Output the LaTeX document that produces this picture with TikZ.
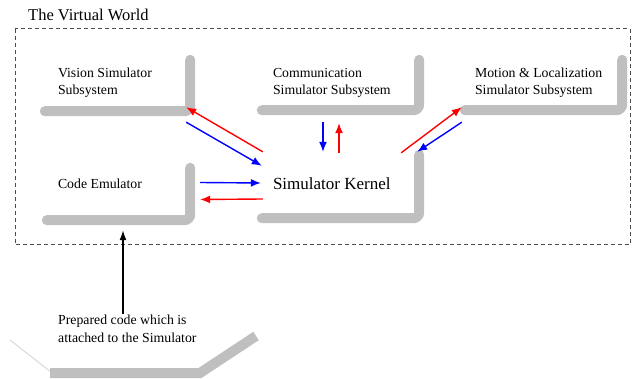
\documentclass[tikz,border=0pt]{standalone}
\usepackage{fontspec}
\setmainfont{Liberation Serif}
\usetikzlibrary{calc,arrows.meta}

\tikzset{
  sub/.style={inner sep=0pt},
  txt/.style={anchor=west,align=left,inner sep=0pt,font=\fontsize{13.8}{17}\selectfont},
  shade/.style={draw=black!25,line width=10pt,line cap=round,rounded corners=6pt},
  tored/.style={draw=red,line width=1.4pt,-{Latex[length=10pt,width=8pt]}},
  toblue/.style={draw=blue,line width=1.4pt,-{Latex[length=10pt,width=8pt]}}
}

\begin{document}
\begin{tikzpicture}[x=1pt,y=-1pt]
  \useasboundingbox (0,0) rectangle (634,379);

  % the world frame
  \node[anchor=west,inner sep=0pt,font=\fontsize{16.5}{19}\selectfont] (title) at (28,15) {The Virtual World};
  \draw[black!70,line width=1pt,dash pattern=on 4pt off 3pt] (15,29) rectangle (630,245);

  % subsystems (south east corner sits on the shade line)
  \node[sub,minimum width=150pt,minimum height=56pt] (vision) at (115,83) {};
  \node[sub,minimum width=162pt,minimum height=55pt] (comm) at (338,82.5) {};
  \node[sub,minimum width=162pt,minimum height=55pt] (motion) at (541,82.5) {};
  \node[sub,minimum width=162pt,minimum height=68pt] (kernel) at (338,184) {};
  \node[sub,minimum width=148pt,minimum height=57pt] (code) at (116,191.5) {};

  \foreach \b in {vision,comm,motion,kernel,code}
    \draw[shade] ([shift={(5,0)}]\b.south west) -- (\b.south east) -- ([shift={(0,5)}]\b.north east);

  \node[txt] (visiontxt) at ([shift={(18,0)}]vision.west) {Vision Simulator\\Subsystem};
  \node[txt] (commtxt) at ([shift={(16,0)}]comm.west) {Communication\\Simulator Subsystem};
  \node[txt] (motiontxt) at ([shift={(15,0)}]motion.west) {Motion \& Localization\\Simulator Subsystem};
  \node[txt,font=\fontsize{17}{20}\selectfont] (kerneltxt) at ([shift={(16,0)}]kernel.west) {Simulator Kernel};
  \node[txt] (codetxt) at ([shift={(16,-8)}]code.west) {Code Emulator};

  % prepared code outside the world
  \draw[black!15,line width=1pt] (10,340) -- (51,372);
  \draw[black!25,line width=10pt] (50,373) -- (200,373) -- (256,336);
  \node[txt,font=\fontsize{13.8}{18}\selectfont] (prepared) at (58,329) {Prepared code which is\\attached to the Simulator};
  \coordinate (tip) at ([shift={(7,10)}]code.south);
  \draw[line width=1.4pt,-{Latex[length=10pt,width=7pt]}] ([shift={(0,-1)}]prepared.north -| tip) -- (tip);

  % kernel <-> vision
  \draw[tored] ([shift={(6,2)}]kernel.north west) -- ([shift={(-4,-4)}]vision.south east);
  \draw[toblue] ([shift={(-4,11)}]vision.south east) -- ([shift={(5,16)}]kernel.north west);
  % kernel <-> code emulator
  \draw[toblue] ([shift={(10,-9)}]code.east) -- ([shift={(4,-1)}]kernel.west);
  \draw[tored] ([shift={(6,15)}]kernel.west) -- ([shift={(10,8)}]code.east);
  % kernel <-> communication
  \draw[toblue] ([shift={(-15,12)}]comm.south) -- ([shift={(-15,2)}]kernel.north);
  \draw[tored] ([shift={(1,3)}]kernel.north) -- ([shift={(1,13)}]comm.south);
  % kernel <-> motion
  \draw[tored] ([shift={(-18,3)}]kernel.north east) -- ([shift={(2,-3)}]motion.south west);
  \draw[toblue] ([shift={(2,12)}]motion.south west) -- ([shift={(-2,2)}]kernel.north east);
\end{tikzpicture}
\end{document}
